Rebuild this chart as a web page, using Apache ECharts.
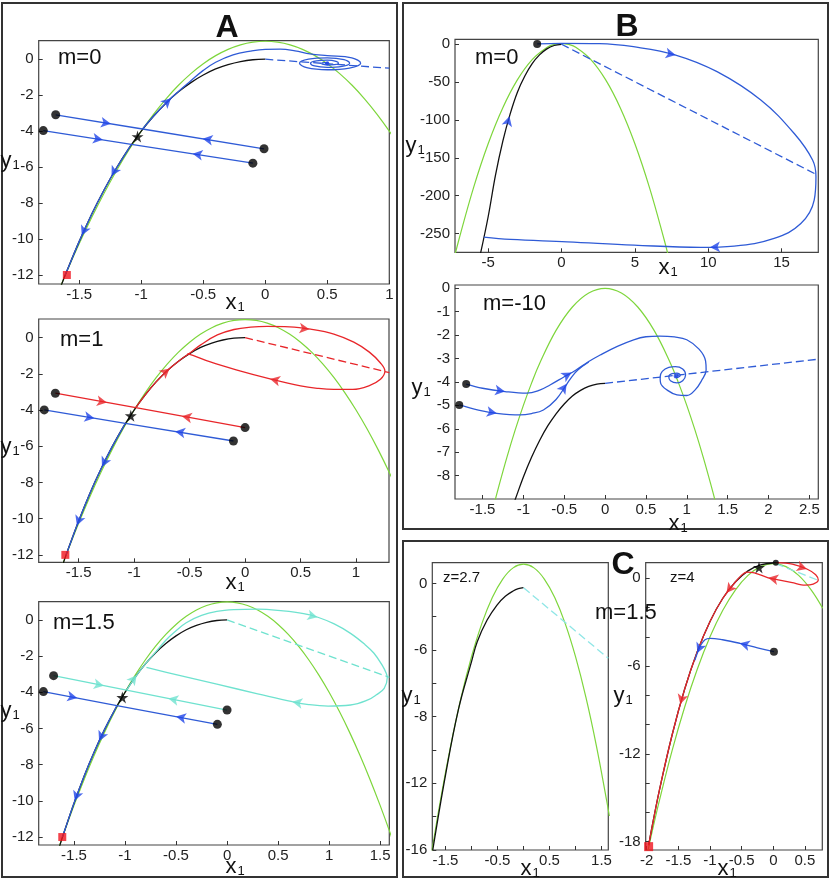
<!DOCTYPE html>
<html><head><meta charset="utf-8">
<script src="https://cdn.jsdelivr.net/npm/echarts@6.0.0/dist/echarts.min.js"></script>
<style>html,body{margin:0;padding:0;background:#fff}#c{width:831px;height:879px}</style>
</head><body><div id="c"></div>
<script>
// ---------------- DATA ----------------
// tick values / labels
const xTicksA01 = [-1.5,-1,-0.5,0,0.5,1];
const xTicksA2 = [-1.5,-1,-0.5,0,0.5,1,1.5];
const yTicksA = [0,-2,-4,-6,-8,-10,-12];
const xTicksB0 = [-5,0,5,10,15];
const yTicksB0 = [0,-50,-100,-150,-200,-250];
const xTicksB1 = [-1.5,-1,-0.5,0,0.5,1,1.5,2,2.5];
const yTicksB1 = [0,-1,-2,-3,-4,-5,-6,-7,-8];
const xTicksCL = [-1.5,-1,-0.5,0,0.5,1,1.5];
const xLabelsCL = [-1.5,-0.5,0.5,1.5];
const yTicksCL = [0,-2,-4,-6,-8,-10,-12,-14,-16];
const yLabelValsCL = [0,-4,-8,-12,-16];
const yLabelTextCL = ['0','-6','-8','-12','-16'];
const xTicksCR = [-2,-1.5,-1,-0.5,0,0.5];
const yTicksCR = [0,-2,-4,-6,-8,-10,-12,-14,-16,-18];
const yLabelsCR = [0,-6,-12,-18];

// Panel A shared curves
const greenA = [[-1.7,-13.45],[-1.6,-11.8],[-1.5,-10.25],[-1.4,-8.8],[-1.3,-7.45],[-1.2,-6.2],[-1.1,-5.05],[-1.0,-4.0],[-0.9,-3.05],[-0.8,-2.2],[-0.7,-1.45],[-0.6,-0.8],[-0.5,-0.25],[-0.4,0.2],[-0.3,0.55],[-0.2,0.8],[-0.1,0.95],[0,1],[0.1,0.95],[0.2,0.8],[0.3,0.55],[0.4,0.2],[0.5,-0.25],[0.6,-0.8],[0.7,-1.45],[0.8,-2.2],[0.9,-3.05],[1.0,-4.0],[1.1,-5.05],[1.2,-6.2],[1.3,-7.45],[1.4,-8.8],[1.5,-10.25],[1.6,-11.8],[1.7,-13.45]];
const blackA = [[-1.65,-12.66],[-1.6,-11.78],[-1.5,-10.13],[-1.4,-8.62],[-1.3,-7.27],[-1.2,-6.05],[-1.1,-4.96],[-1.0,-4.0],[-0.9,-3.16],[-0.8,-2.43],[-0.7,-1.81],[-0.6,-1.30],[-0.5,-0.88],[-0.4,-0.54],[-0.3,-0.30],[-0.2,-0.13],[-0.1,-0.03],[0,0]];
const downA = [[-1.08,-4.73],[-1.1,-4.96],[-1.2,-6.05],[-1.3,-7.27],[-1.4,-8.62],[-1.5,-10.13],[-1.6,-11.78],[-1.615,-12.0]];

// A, m=0
const a0InUL = [[-1.69,-3.09],[-0.99,-3.88]];
const a0InUR = [[-0.01,-4.98],[-0.99,-3.88]];
const a0InLL = [[-1.79,-3.97],[-1.08,-4.73]];
const a0InLR = [[-0.10,-5.78],[-1.08,-4.73]];
const a0Up = [[-0.99,-3.88],[-0.9,-3.16],[-0.8,-2.43],[-0.7,-1.79],[-0.6,-1.2],[-0.5,-0.62],[-0.4,-0.17],[-0.26,0.24],[-0.12,0.45],[0,0.55],[0.12,0.56],[0.24,0.47],[0.36,0.3],[0.5,0.2],[0.698,0.074],[0.769,-0.22],[0.678,-0.49],[0.5,-0.586],[0.334,-0.469],[0.276,-0.22],[0.349,0.003],[0.5,0.079],[0.635,-0.02],[0.68,-0.22],[0.619,-0.396],[0.5,-0.453],[0.397,-0.376],[0.365,-0.22],[0.413,-0.091],[0.5,-0.054],[0.571,-0.114],[0.59,-0.22],[0.555,-0.302],[0.5,-0.32],[0.46,-0.279],[0.455,-0.22],[0.476,-0.184],[0.5,-0.187],[0.508,-0.208],[0.5,-0.22]];
const a0Dash = [[0,0],[1.0,-0.5]];
const a0Dots = [[-1.69,-3.09],[-0.01,-4.98],[-1.79,-3.97],[-0.10,-5.78]];
const a0Star = [[-1.03,-4.3]];
const a0Square = [[-1.6,-12.0]];
const a0Center = [[0.5,-0.22]];
const a0Arrows = [[-1.245,-3.59],[-0.505,-4.42],[-1.31,-4.48],[-0.586,-5.26],[-0.76,-2.17],[-1.24,-6.5],[-1.48,-9.8]];

// A, m=1
const a1RedL = [[-1.71,-3.07],[-0.985,-3.87]];
const a1RedR = [[0,-4.97],[-0.985,-3.87]];
const a1BlueL = [[-1.81,-3.99],[-1.08,-4.73]];
const a1BlueR = [[-0.105,-5.71],[-1.08,-4.73]];
const a1RedLoop = [[-0.985,-3.87],[-0.9,-3.16],[-0.8,-2.43],[-0.7,-1.81],[-0.6,-1.3],[-0.5,-0.86],[-0.4,-0.4],[-0.25,0.15],[-0.1,0.45],[0.05,0.58],[0.2,0.62],[0.4,0.6],[0.59,0.47],[0.8,0.2],[0.98,-0.25],[1.12,-0.8],[1.22,-1.4],[1.26,-1.86],[1.22,-2.3],[1.12,-2.65],[0.97,-2.86],[0.8,-2.86],[0.65,-2.8],[0.5,-2.67],[0.225,-2.28],[-0.08,-1.78],[-0.32,-1.33],[-0.47,-0.98],[-0.52,-0.88]];
const a1Dash = [[0,0],[1.3,-1.93]];
const a1Dots = [[-1.71,-3.07],[0,-4.97],[-1.81,-3.99],[-0.105,-5.71]];
const a1Star = [[-1.03,-4.31]];
const a1Square = [[-1.62,-12.0]];
const a1RedArrows = [[-1.246,-3.585],[-0.57,-4.34],[-0.68,-1.70],[0.58,0.47],[0.225,-2.28]];
const a1BlueArrows = [[-1.358,-4.446],[-0.63,-5.18],[-1.29,-7.14],[-1.516,-10.38]];

// A, m=1.5
const a2CyanL = [[-1.70,-3.08],[-0.985,-3.88]];
const a2CyanR = [[0,-4.98],[-0.985,-3.88]];
const a2BlueL = [[-1.80,-3.96],[-1.08,-4.73]];
const a2BlueR = [[-0.095,-5.77],[-1.08,-4.73]];
const a2CyanLoop = [[-0.985,-3.88],[-0.9,-3.16],[-0.8,-2.43],[-0.7,-1.78],[-0.6,-1.12],[-0.5,-0.6],[-0.4,-0.15],[-0.25,0.25],[-0.1,0.47],[0.07,0.57],[0.3,0.6],[0.55,0.5],[0.75,0.35],[0.89,0.15],[1.05,-0.22],[1.21,-0.74],[1.35,-1.35],[1.44,-1.84],[1.52,-2.5],[1.56,-2.95],[1.57,-3.2],[1.54,-3.78],[1.46,-4.15],[1.38,-4.42],[1.21,-4.7],[0.99,-4.76],[0.8,-4.68],[0.64,-4.52],[0.3,-4.08],[-0.1,-3.55],[-0.5,-3.02],[-0.79,-2.62]];
const a2Dash = [[0,0],[1.59,-3.17]];
const a2Dots = [[-1.70,-3.08],[0,-4.98],[-1.80,-3.96],[-0.095,-5.77]];
const a2Star = [[-1.026,-4.28]];
const a2Square = [[-1.615,-12.0]];
const a2CyanArrows = [[-1.208,-3.63],[-0.575,-4.34],[-0.886,-3.05],[0.886,0.15],[0.64,-4.52]];
const a2BlueArrows = [[-1.468,-4.31],[-0.50,-5.34],[-1.254,-6.7],[-1.493,-10.0]];

// B, m=0
const greenB0 = [[-7.3,-281.4],[-7,-258.7],[-6,-189.8],[-5,-131.5],[-4,-83.8],[-3,-46.7],[-2,-20.2],[-1,-4.3],[-0.5,-0.33],[0,1],[0.5,-0.33],[1,-4.3],[2,-20.2],[3,-46.7],[4,-83.8],[5,-131.5],[6,-189.8],[7,-258.7],[7.3,-281.4]];
const blackB0 = [[-5.55,-279],[-5.0,-228],[-4.5,-173],[-4.0,-128],[-3.5,-92],[-3.0,-63],[-2.5,-42],[-2.0,-25.5],[-1.5,-14],[-1.0,-6],[-0.5,-1.6],[0,0]];
const b0Loop = [[-1.66,0.5],[0,1.3],[2.6,1.0],[4.9,-3.2],[7.78,-14.2],[10.6,-36.2],[13.58,-73.7],[15.86,-118],[17.11,-153],[17.34,-175],[17.22,-206],[16.31,-237],[14.49,-256.6],[11.76,-266.8],[9.49,-268.5],[4.94,-265.5],[0.39,-261.1],[-3.48,-258],[-5.3,-255]];
const b0Dash = [[0,0],[17.46,-173]];
const b0Dot = [[-1.66,0.5]];
const b0Arrows = [[7.78,-14.2],[10.12,-268.3],[-3.55,-95]];

// B, m=-10
const greenB1 = [[-1.37,-9.38],[-1.3,-8.45],[-1.2,-7.2],[-1.1,-6.05],[-1.0,-5.0],[-0.9,-4.05],[-0.8,-3.2],[-0.6,-1.8],[-0.4,-0.8],[-0.2,-0.2],[0,0],[0.2,-0.2],[0.4,-0.8],[0.6,-1.8],[0.8,-3.2],[0.9,-4.05],[1.0,-5.0],[1.1,-6.05],[1.2,-7.2],[1.3,-8.45],[1.37,-9.38]];
const blackB1 = [[-1.12,-9.2],[-1.1,-9.02],[-1.0,-8.06],[-0.9,-7.22],[-0.8,-6.49],[-0.7,-5.87],[-0.6,-5.36],[-0.5,-4.94],[-0.4,-4.6],[-0.3,-4.36],[-0.2,-4.19],[-0.1,-4.09],[0,-4.06]];
const b1Dash = [[0,-4.06],[2.61,-3.03]];
const b1Upper = [[-1.70,-4.09],[-1.5,-4.27],[-1.225,-4.41],[-0.96,-4.48],[-0.8,-4.35],[-0.674,-4.13],[-0.5,-3.78],[-0.36,-3.5],[-0.2,-3.13],[-0.06,-2.85],[0.15,-2.48],[0.35,-2.2],[0.5,-2.07],[0.67,-2.04],[0.85,-2.08],[1.0,-2.2],[1.15,-2.6],[1.23,-3.1],[1.237,-3.49],[1.18,-3.95],[1.1,-4.35],[1.0,-4.58],[0.88,-4.55],[0.76,-4.35],[0.68,-4.05],[0.674,-3.8],[0.7,-3.55],[0.78,-3.38],[0.86,-3.35],[0.95,-3.45],[0.985,-3.7],[0.95,-3.95],[0.88,-4.04],[0.8,-3.95],[0.78,-3.78],[0.82,-3.64],[0.88,-3.62],[0.92,-3.72],[0.89,-3.8],[0.86,-3.77],[0.87,-3.75]];
const b1Lower = [[-1.785,-4.98],[-1.55,-5.2],[-1.326,-5.34],[-1.04,-5.41],[-0.9,-5.35],[-0.755,-5.2],[-0.6,-4.75],[-0.47,-4.1],[-0.4,-3.75],[-0.33,-3.48],[-0.2,-3.15]];
const b1Dots = [[-1.70,-4.09],[-1.785,-4.98]];
const b1Center = [[0.87,-3.75]];
const b1Arrows = [[-1.225,-4.41],[-0.41,-3.6],[-1.326,-5.34],[-0.47,-4.08]];

// C, z=2.7
const greenCL = [[-1.76,-16.04],[-1.6,-13.06],[-1.4,-9.73],[-1.2,-6.84],[-1.0,-4.4],[-0.8,-2.4],[-0.6,-0.85],[-0.4,0.26],[-0.2,0.93],[0,1.15],[0.2,0.93],[0.4,0.26],[0.6,-0.85],[0.8,-2.4],[1.0,-4.4],[1.2,-6.84],[1.4,-9.73],[1.6,-13.06],[1.65,-13.96]];
const blackCL = [[-1.745,-16],[-1.5,-11.5],[-1.25,-7.55],[-1.0,-4.7],[-0.89,-3.5],[-0.7,-2.2],[-0.51,-1.3],[-0.35,-0.78],[-0.2,-0.46],[-0.1,-0.32],[0,-0.26]];
const clDash = [[0,-0.26],[1.63,-4.5]];

// C, z=4
const greenCR = [[-2.0,-19],[-1.9,-17.05],[-1.8,-15.2],[-1.6,-11.8],[-1.4,-8.8],[-1.2,-6.2],[-1.0,-4],[-0.8,-2.2],[-0.6,-0.8],[-0.4,0.2],[-0.2,0.8],[0,1],[0.2,0.8],[0.4,0.2],[0.6,-0.8],[0.78,-2.04]];
const blackCR = [[-1.97,-18.24],[-1.9,-16.64],[-1.8,-14.5],[-1.6,-10.73],[-1.4,-7.57],[-1.2,-5.0],[-1.0,-2.95],[-0.8,-1.38],[-0.6,-0.25],[-0.4,0.51],[-0.2,0.92],[0,1.05]];
const crRed = [[0.04,1.07],[0.3,0.97],[0.53,0.64],[0.67,0.25],[0.71,-0.12],[0.63,-0.4],[0.5,-0.47],[0.3,-0.3],[0.1,-0.12],[-0.08,0.04],[-0.3,0.38],[-0.42,0.42],[-0.5,0.22],[-0.6,-0.25],[-0.8,-1.38],[-1.0,-2.95],[-1.2,-5.0],[-1.4,-7.57],[-1.6,-10.73],[-1.8,-14.5],[-1.97,-18.24]];
const crBlue = [[0.01,-5.02],[-0.25,-4.75],[-0.53,-4.44],[-0.8,-4.2],[-1.0,-4.1],[-1.08,-4.2],[-1.15,-4.6],[-1.2,-5.1],[-1.24,-5.6]];
const crDash = [[0.04,1.0],[0.69,-0.1]];
const crTopDot = [[0.04,1.07]];
const crDot = [[0.01,-5.02]];
const crStar = [[-0.226,0.75]];
const crSquare = [[-1.97,-18.35]];
const crRedArrows = [[0.53,0.64],[-0.08,0.04],[-0.74,-1.0],[-1.47,-8.61]];
const crBlueArrows = [[-0.53,-4.44],[-1.2,-5.1]];

// ---------------- STYLE / LAYOUT ----------------
const FONT = '"Liberation Sans", Arial, sans-serif';
const GREEN = '#7ed63c', BLACK = '#111111', BLUE = '#2f5bd6', ARROWBLUE = '#1f45e8',
      RED = '#e8262a', CYAN = '#6fe2cf', CYANDASH = '#8fe6e6';
const STAR = 'path://M50,0 L61,35 L98,35 L68,57 L79,91 L50,70 L21,91 L32,57 L2,35 L39,35 Z';

const grids = [
  {left:38.7, top:40.7, width:350.6, height:243.3, x:[-1.827,1.0], y:[-12.5,1.03], xt:xTicksA01, xl:xTicksA01, yt:yTicksA, yl:yTicksA},
  {left:38.7, top:319, width:350.3, height:243.3, x:[-1.86,1.297], y:[-12.41,1.03], xt:xTicksA01, xl:xTicksA01, yt:yTicksA, yl:yTicksA},
  {left:38.7, top:601.7, width:350.6, height:243.3, x:[-1.846,1.59], y:[-12.44,1.01], xt:xTicksA2, xl:xTicksA2, yt:yTicksA, yl:yTicksA},
  {left:455, top:39.3, width:363.3, height:213, x:[-7.26,17.5], y:[-275,6.6], xt:xTicksB0, xl:xTicksB0, yt:yTicksB0, yl:yTicksB0},
  {left:455, top:285, width:363.3, height:214, x:[-1.837,2.61], y:[-9.0,0.14], xt:xTicksB1, xl:xTicksB1, yt:yTicksB1, yl:yTicksB1},
  {left:432.3, top:562.7, width:176, height:287.3, x:[-1.754,1.63], y:[-16,1.24], xt:xTicksCL, xl:xLabelsCL, yt:yTicksCL, yl:yLabelValsCL, ytext:yLabelTextCL},
  {left:645.7, top:562.7, width:176.6, height:287.3, x:[-2.016,0.774], y:[-18.58,1.07], xt:xTicksCR, xl:xTicksCR, yt:yTicksCR, yl:yLabelsCR}
];

const axisFont = {color:'#222', fontSize:15, fontFamily:FONT};
const option = {
  animation:false,
  backgroundColor:'#fff',
  grid: grids.map(g => ({left:g.left, top:g.top, width:g.width, height:g.height, show:true, borderColor:'#444', borderWidth:1.2, backgroundColor:'transparent', containLabel:false})),
  xAxis: grids.map((g,i) => ({
    type:'value', gridIndex:i, position:'bottom', min:g.x[0], max:g.x[1], splitLine:{show:false},
    axisLine:{show:false, onZero:false},
    axisTick:{show:true, inside:true, length:4, lineStyle:{color:'#333', width:1}, customValues:g.xt},
    axisLabel:Object.assign({show:true, margin:3, customValues:g.xl, formatter:v => String(+v.toFixed(3))}, axisFont)
  })),
  yAxis: grids.map((g,i) => ({
    type:'value', gridIndex:i, position:'left', min:g.y[0], max:g.y[1], splitLine:{show:false},
    axisLine:{show:false, onZero:false},
    axisTick:{show:true, inside:true, length:4, lineStyle:{color:'#333', width:1}, customValues:g.yt},
    axisLabel:Object.assign({show:true, margin:5, customValues:g.yl, formatter:v => {
      if (g.ytext) { const k = g.yl.findIndex(t => Math.abs(t - v) < 1e-9); return k >= 0 ? g.ytext[k] : ''; }
      return String(+v.toFixed(3));
    }}, axisFont)
  })),
  series: [],
  graphic: []
};

const S = option.series;
function line(g, data, color, opt) {
  opt = opt || {};
  S.push({type:'line', xAxisIndex:g, yAxisIndex:g, data:data, symbol:'none', showSymbol:false,
    smooth: opt.smooth === undefined ? 0.4 : opt.smooth, clip:true, silent:true, z: opt.z || 3,
    lineStyle:{color:color, width: opt.w || 1.3, type: opt.dash ? [8,4] : 'solid'}});
}
function pts(g, data, color, symbol, size, z) {
  S.push({type:'scatter', xAxisIndex:g, yAxisIndex:g, data:data, symbol:symbol, symbolSize:size, silent:true, z:z || 6,
    itemStyle:{color:color}});
}

// Panel A curves
[0,1,2].forEach(g => { line(g, greenA, GREEN, {z:2, w:1.2}); line(g, blackA, BLACK, {z:2.5}); });
// A m=0
line(0, a0Dash, BLUE, {dash:true, smooth:false});
[a0InUL,a0InUR,a0InLL,a0InLR].forEach(d => line(0, d, BLUE, {smooth:false}));
line(0, a0Up, BLUE); line(0, downA, BLUE);
pts(0, a0Dots, '#000', 'circle', 9); pts(0, a0Star, '#000', STAR, 12); pts(0, a0Square, '#f0141e', 'rect', 8); pts(0, a0Center, ARROWBLUE, 'circle', 4);
// A m=1
line(1, a1Dash, RED, {dash:true, smooth:false});
[a1RedL,a1RedR].forEach(d => line(1, d, RED, {smooth:false}));
[a1BlueL,a1BlueR].forEach(d => line(1, d, BLUE, {smooth:false}));
line(1, a1RedLoop, RED); line(1, downA, BLUE);
pts(1, a1Dots, '#000', 'circle', 9); pts(1, a1Star, '#000', STAR, 12); pts(1, a1Square, '#f0141e', 'rect', 8);
// A m=1.5
line(2, a2Dash, CYAN, {dash:true, smooth:false});
[a2CyanL,a2CyanR].forEach(d => line(2, d, CYAN, {smooth:false}));
[a2BlueL,a2BlueR].forEach(d => line(2, d, BLUE, {smooth:false}));
line(2, a2CyanLoop, CYAN); line(2, downA, BLUE);
pts(2, a2Dots, '#000', 'circle', 9); pts(2, a2Star, '#000', STAR, 12); pts(2, a2Square, '#f0141e', 'rect', 8);
// B m=0
line(3, greenB0, GREEN, {z:2, w:1.2}); line(3, blackB0, BLACK, {z:2.5});
line(3, b0Dash, BLUE, {dash:true, smooth:false}); line(3, b0Loop, BLUE);
pts(3, b0Dot, '#000', 'circle', 8);
// B m=-10
line(4, greenB1, GREEN, {z:2, w:1.2}); line(4, blackB1, BLACK, {z:2.5});
line(4, b1Dash, BLUE, {dash:true, smooth:false}); line(4, b1Upper, BLUE); line(4, b1Lower, BLUE);
pts(4, b1Dots, '#000', 'circle', 8); pts(4, b1Center, ARROWBLUE, 'circle', 5);
// C z=2.7
line(5, greenCL, GREEN, {z:2, w:1.2}); line(5, blackCL, BLACK, {z:2.5});
line(5, clDash, CYANDASH, {dash:true, smooth:false});
// C z=4
line(6, greenCR, GREEN, {z:2, w:1.2}); line(6, blackCR, BLACK, {z:2.5});
line(6, crDash, CYANDASH, {dash:true, smooth:false});
line(6, crRed, RED, {smooth:0.3}); line(6, crBlue, BLUE);
pts(6, crTopDot, '#000', 'circle', 6); pts(6, crDot, '#000', 'circle', 8); pts(6, crStar, '#000', STAR, 12); pts(6, crSquare, '#f0141e', 'rect', 9);

// arrows
const arrowGroups = [
  {g:0, color:ARROWBLUE, pts:a0Arrows, paths:[a0InUL,a0InUR,a0InLL,a0InLR,a0Up,downA]},
  {g:1, color:RED, pts:a1RedArrows, paths:[a1RedL,a1RedR,a1RedLoop]},
  {g:1, color:ARROWBLUE, pts:a1BlueArrows, paths:[a1BlueL,a1BlueR,downA]},
  {g:2, color:CYAN, pts:a2CyanArrows, paths:[a2CyanL,a2CyanR,a2CyanLoop]},
  {g:2, color:ARROWBLUE, pts:a2BlueArrows, paths:[a2BlueL,a2BlueR,downA]},
  {g:3, color:ARROWBLUE, pts:b0Arrows, paths:[b0Loop,blackB0]},
  {g:4, color:ARROWBLUE, pts:b1Arrows, paths:[b1Upper,b1Lower]},
  {g:6, color:RED, pts:crRedArrows, paths:[crRed]},
  {g:6, color:ARROWBLUE, pts:crBlueArrows, paths:[crBlue]}
];
arrowGroups.forEach((a, k) => {
  S.push({id:'arr'+k, type:'scatter', xAxisIndex:a.g, yAxisIndex:a.g, data:a.pts.map(p => ({value:p})),
    symbol:'arrow', symbolSize:[8,10], silent:true, z:7, itemStyle:{color:a.color}});
});

// texts
const G = option.graphic;
function txt(t, x, y, size, opt) {
  opt = opt || {};
  G.push({type:'text', x:x, y:y, silent:true, z:100, style:{text:t, fontSize:size, fontFamily:FONT, fontWeight: opt.bold ? 'bold' : 'normal',
    fill:'#111', align: opt.align || 'center', verticalAlign:'middle'}});
}
function sub(base, x, y) {
  G.push({type:'text', x:x, y:y, silent:true, z:100, style:{text:'{a|'+base+'}{b|1}', fontFamily:FONT, fill:'#111', align:'center', verticalAlign:'middle',
    rich:{a:{fontSize:22, fontFamily:FONT, lineHeight:24, verticalAlign:'bottom'}, b:{fontSize:13, fontFamily:FONT, lineHeight:24, verticalAlign:'bottom', padding:[0,0,0,1]}}}});
}
// panel frames
[[2,3,395,874],[403,3,425,526],[403,541,425,336]].forEach(r => G.push({type:'rect', silent:true, z:0,
  shape:{x:r[0], y:r[1], width:r[2], height:r[3]}, style:{fill:'none', stroke:'#333', lineWidth:2}}));
txt('A', 227, 28, 32, {bold:true}); txt('B', 627, 27, 32, {bold:true}); txt('C', 623, 565, 32, {bold:true});
txt('m=0', 58, 58, 22, {align:'left'}); txt('m=1', 60, 340, 22, {align:'left'}); txt('m=1.5', 53, 623, 22, {align:'left'});
txt('m=0', 475, 58, 22, {align:'left'}); txt('m=-10', 483, 304, 22, {align:'left'}); txt('m=1.5', 595, 613, 22, {align:'left'});
txt('z=2.7', 443, 578, 15, {align:'left'}); txt('z=4', 670, 578, 15, {align:'left'});
sub('y', 10, 160); sub('y', 10, 446); sub('y', 10, 710); sub('y', 415, 145); sub('y', 421, 387); sub('y', 411, 695); sub('y', 623, 695);
sub('x', 235, 302); sub('x', 235, 582); sub('x', 235, 866); sub('x', 668, 267); sub('x', 678, 523); sub('x', 530, 868); sub('x', 727, 868);

// ---------------- RENDER ----------------
const chart = echarts.init(document.getElementById('c'), null, {renderer:'canvas', width:831, height:879});
chart.setOption(option);
function rotFor(g, pt, paths) {
  const P = chart.convertToPixel({gridIndex:g}, pt);
  let best = [1,0], bd = Infinity;
  paths.forEach(path => {
    for (let i = 0; i < path.length - 1; i++) {
      const a = chart.convertToPixel({gridIndex:g}, path[i]);
      const b = chart.convertToPixel({gridIndex:g}, path[i+1]);
      const dx = b[0]-a[0], dy = b[1]-a[1], L = dx*dx + dy*dy || 1e-9;
      let t = ((P[0]-a[0])*dx + (P[1]-a[1])*dy) / L; t = Math.max(0, Math.min(1, t));
      const qx = a[0] + t*dx - P[0], qy = a[1] + t*dy - P[1], d = qx*qx + qy*qy;
      if (d < bd) { bd = d; best = [dx, dy]; }
    }
  });
  return Math.atan2(-best[0], -best[1]) * 180 / Math.PI;
}
chart.setOption({series: arrowGroups.map((a, k) => ({id:'arr'+k,
  data: a.pts.map(p => ({value:p, symbolRotate: rotFor(a.g, p, a.paths)}))}))});
</script></body></html>
